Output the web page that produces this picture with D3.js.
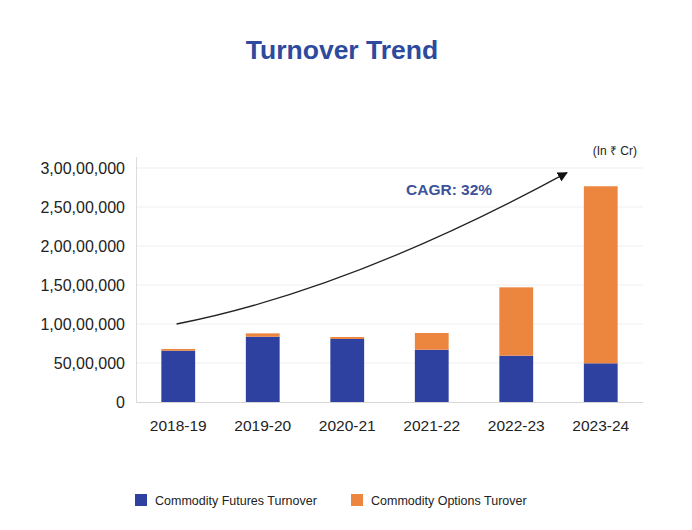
<!DOCTYPE html>
<html>
<head>
<meta charset="utf-8">
<script src="https://cdn.jsdelivr.net/npm/d3@7"></script>
<style>
  html, body { margin: 0; padding: 0; background: #ffffff; }
  svg { display: block; font-family: "Liberation Sans", Arial, sans-serif; }
</style>
</head>
<body>
<svg id="chart" width="692" height="530"></svg>
<script>
const categories = ["2018-19", "2019-20", "2020-21", "2021-22", "2022-23", "2023-24"];
const futuresTurnover = [6580000, 8370000, 8080000, 6700000, 5940000, 4960000];
const optionsTurnover = [220000, 430000, 250000, 2150000, 8760000, 22700000];
const seriesNames = ["Commodity Futures Turnover", "Commodity Options Turover"];
const seriesColors = ["#2e40a0", "#ec853d"];
const yTicks = [0, 5000000, 10000000, 15000000, 20000000, 25000000, 30000000];
const yTickLabels = ["0", "50,00,000", "1,00,00,000", "1,50,00,000", "2,00,00,000", "2,50,00,000", "3,00,00,000"];
const cagrLabel = "CAGR: 32%";
const unitLabel = "(In \u20B9 Cr)";
const titleText = "Turnover Trend";
// arrow trend endpoints expressed in data terms: [category index (fractional), value]
const trendStart = [-0.02, 10000000];
const trendControl = [2.05, 14400000];
const trendEnd = [4.6, 29400000];

const svg = d3.select("#chart");
const margin = { left: 136, right: 49, top: 168, bottom: 128 };
const W = 692, H = 530;
const plotTop = 157;

const x = d3.scaleBand().domain(categories).range([margin.left, W - margin.right])
  .paddingInner(0.6).paddingOuter(0.3);
const y = d3.scaleLinear().domain([0, 30000000]).range([H - margin.bottom, margin.top]);

// title
svg.append("text").attr("x", 342).attr("y", 59).attr("text-anchor", "middle")
  .attr("font-size", 26.5).attr("font-weight", "bold").attr("fill", "#2d4a9e").text(titleText);

// gridlines
svg.append("g").selectAll("line").data(yTicks.slice(1)).join("line")
  .attr("x1", margin.left).attr("x2", W - margin.right)
  .attr("y1", d => y(d)).attr("y2", d => y(d))
  .attr("stroke", "#efefef").attr("stroke-width", 1);

// y axis
const yAxis = d3.axisLeft(y).tickValues(yTicks).tickSize(0).tickPadding(11)
  .tickFormat((d, i) => yTickLabels[i]);
const gy = svg.append("g").attr("transform", `translate(${margin.left},0)`).call(yAxis);
gy.select(".domain").remove();
gy.selectAll("text").attr("font-size", 16).attr("fill", "#222").attr("font-family", "Liberation Sans, Arial, sans-serif");
svg.append("line").attr("x1", margin.left + 0.5).attr("x2", margin.left + 0.5)
  .attr("y1", plotTop).attr("y2", y(0)).attr("stroke", "#dcdcdc");

// stacked bars
const stackData = categories.map((c, i) => ({ cat: c, futures: futuresTurnover[i], options: optionsTurnover[i] }));
const stack = d3.stack().keys(["futures", "options"])(stackData);
svg.append("g").selectAll("g").data(stack).join("g")
  .attr("fill", (d, i) => seriesColors[i])
  .selectAll("rect").data(d => d).join("rect")
  .attr("x", d => x(d.data.cat)).attr("width", x.bandwidth())
  .attr("y", d => y(d[1])).attr("height", d => y(d[0]) - y(d[1]));

// x axis baseline
svg.append("line").attr("x1", margin.left).attr("x2", W - margin.right)
  .attr("y1", y(0) + 0.5).attr("y2", y(0) + 0.5).attr("stroke", "#d6d6d6");
const xAxis = d3.axisBottom(x).tickSize(0).tickPadding(18);
const gx = svg.append("g").attr("transform", `translate(0,${y(0)})`).call(xAxis);
gx.select(".domain").remove();
gx.selectAll("text").attr("font-size", 15.5).attr("fill", "#222").attr("font-family", "Liberation Sans, Arial, sans-serif");

// trend arrow
const cx = v => x(categories[0]) + x.bandwidth() / 2 + v * x.step();
svg.append("defs").append("marker").attr("id", "arrow")
  .attr("viewBox", "0 0 10 10").attr("refX", 9).attr("refY", 5)
  .attr("markerWidth", 10).attr("markerHeight", 10).attr("markerUnits", "userSpaceOnUse")
  .attr("orient", "auto")
  .append("path").attr("d", "M0,0 L10,5 L0,10 z").attr("fill", "#111");
const p = d3.path();
p.moveTo(cx(trendStart[0]), y(trendStart[1]));
p.quadraticCurveTo(cx(trendControl[0]), y(trendControl[1]), cx(trendEnd[0]), y(trendEnd[1]));
svg.append("path").attr("d", p.toString()).attr("fill", "none")
  .attr("stroke", "#222").attr("stroke-width", 1.3).attr("marker-end", "url(#arrow)");

svg.append("text").attr("x", 406).attr("y", 195).attr("font-size", 15.5).attr("font-weight", "bold")
  .attr("fill", "#3d5299").text(cagrLabel);
svg.append("text").attr("x", 637).attr("y", 155).attr("text-anchor", "end").attr("font-size", 12)
  .attr("fill", "#222").text(unitLabel);

// legend
const legendX = [135, 351];
const lg = svg.append("g").selectAll("g").data(seriesNames).join("g")
  .attr("transform", (d, i) => `translate(${legendX[i]},494)`);
lg.append("rect").attr("width", 12).attr("height", 12).attr("fill", (d, i) => seriesColors[i]);
lg.append("text").attr("x", 20).attr("y", 10.5).attr("font-size", 12.5).attr("fill", "#222").text(d => d);
</script>
</body>
</html>
